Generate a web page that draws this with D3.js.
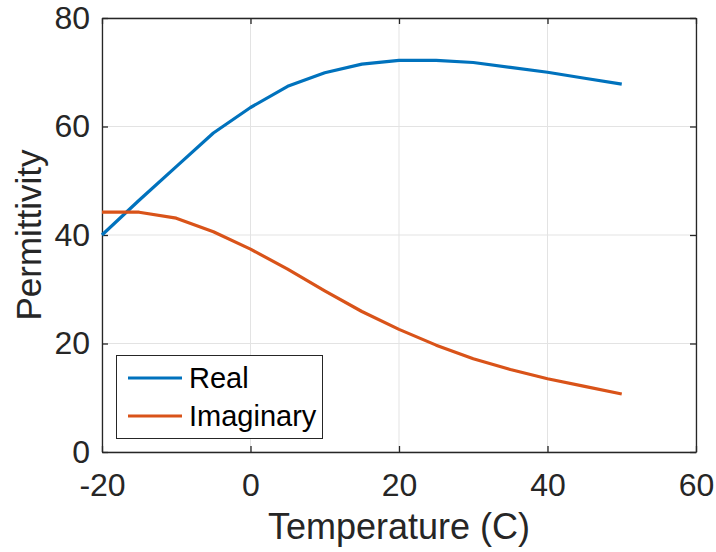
<!DOCTYPE html>
<html>
<head>
<meta charset="utf-8">
<script src="https://cdn.jsdelivr.net/npm/d3@7"></script>
<style>
  html, body { margin: 0; padding: 0; background: #fff; }
  svg { display: block; font-family: "Liberation Sans", Arial, Helvetica, sans-serif; }
</style>
</head>
<body>
<svg id="chart" width="716" height="552"></svg>
<script>
const temperature = [-20, -15, -10, -5, 0, 5, 10, 15, 20, 25, 30, 35, 40, 45, 50];
const realValues = [40.0, 46.4, 52.6, 58.8, 63.5, 67.4, 69.9, 71.5, 72.2, 72.2, 71.8, 70.9, 70.0, 68.9, 67.8];
const imagValues = [44.2, 44.2, 43.1, 40.6, 37.4, 33.7, 29.7, 25.9, 22.6, 19.7, 17.2, 15.2, 13.5, 12.1, 10.7];
const xTicks = [-20, 0, 20, 40, 60];
const yTicks = [0, 20, 40, 60, 80];
const seriesNames = ["Real", "Imaginary"];
const seriesColors = ["#0072BD", "#D95319"];

const svg = d3.select("#chart");
const L = 102, R = 696, T = 18, B = 452;
const x = d3.scaleLinear().domain([-20, 60]).range([L, R]);
const y = d3.scaleLinear().domain([0, 80]).range([B, T]);
const axisColor = "#262626";
const fmt = d => String(d);

// grid
const g = svg.append("g");
g.selectAll(".gx").data(xTicks).enter().append("line")
  .attr("x1", d => x(d)).attr("x2", d => x(d)).attr("y1", T).attr("y2", B)
  .attr("stroke", "#e3e3e3").attr("stroke-width", 1);
g.selectAll(".gy").data(yTicks).enter().append("line")
  .attr("y1", d => y(d)).attr("y2", d => y(d)).attr("x1", L).attr("x2", R)
  .attr("stroke", "#e3e3e3").attr("stroke-width", 1);

// axes
const tickLen = 6;
const xAxis = d3.axisBottom(x).tickValues(xTicks).tickFormat(fmt).tickSizeInner(-tickLen).tickSizeOuter(0).tickPadding(21);
const yAxis = d3.axisLeft(y).tickValues(yTicks).tickFormat(fmt).tickSizeInner(-tickLen).tickSizeOuter(0).tickPadding(12);
const xTop = d3.axisTop(x).tickValues(xTicks).tickSizeInner(-tickLen).tickSizeOuter(0).tickFormat("");
const yRight = d3.axisRight(y).tickValues(yTicks).tickSizeInner(-tickLen).tickSizeOuter(0).tickFormat("");

function style(sel) {
  sel.select(".domain").attr("stroke", axisColor).attr("stroke-width", 1.3);
  sel.selectAll(".tick line").attr("stroke", axisColor).attr("stroke-width", 1.3);
  sel.selectAll(".tick text").attr("fill", axisColor).attr("font-size", 32)
     .attr("font-family", "Liberation Sans, Arial, sans-serif");
}
svg.append("g").attr("transform", `translate(0,${B})`).call(xAxis).call(style);
svg.append("g").attr("transform", `translate(${L},0)`).call(yAxis).call(style);
svg.append("g").attr("transform", `translate(0,${T})`).call(xTop).call(style);
svg.append("g").attr("transform", `translate(${R},0)`).call(yRight).call(style);

// lines
const line = d3.line().x((d, i) => x(temperature[i])).y(d => y(d));
[realValues, imagValues].forEach((vals, k) => {
  svg.append("path").datum(vals).attr("d", line)
    .attr("fill", "none").attr("stroke", seriesColors[k]).attr("stroke-width", 3.2)
    .attr("stroke-linejoin", "round");
});

// axis labels
svg.append("text").attr("x", (L + R) / 2).attr("y", 539).attr("text-anchor", "middle")
  .attr("font-size", 36).attr("fill", axisColor).text("Temperature (C)");
svg.append("text").attr("transform", `translate(41,${(T + B) / 2}) rotate(-90)`)
  .attr("text-anchor", "middle").attr("font-size", 35).attr("fill", axisColor).text("Permittivity");

// legend
const lg = svg.append("g");
lg.append("rect").attr("x", 116.5).attr("y", 355.5).attr("width", 206).attr("height", 83)
  .attr("fill", "#fff").attr("stroke", axisColor).attr("stroke-width", 1);
seriesNames.forEach((name, k) => {
  const yy = 378 + k * 38;
  lg.append("line").attr("x1", 128).attr("x2", 182).attr("y1", yy).attr("y2", yy)
    .attr("stroke", seriesColors[k]).attr("stroke-width", 3.2);
  lg.append("text").attr("x", 189).attr("y", yy + 10).attr("font-size", 29)
    .attr("fill", "#000").text(name);
});
</script>
</body>
</html>
